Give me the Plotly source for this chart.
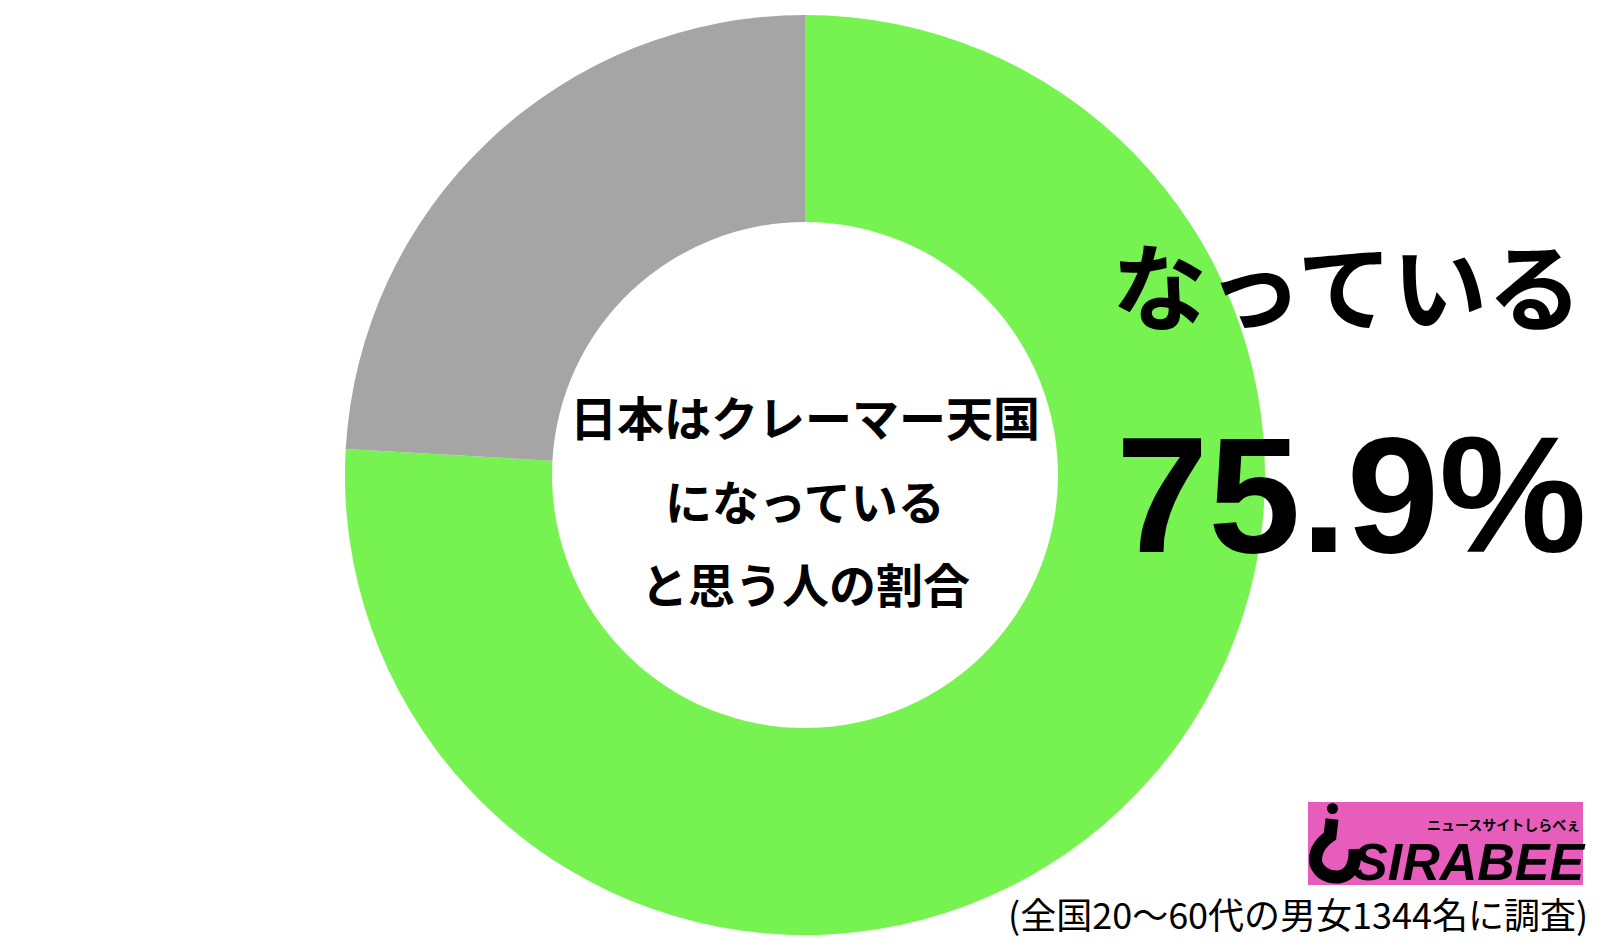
import plotly.graph_objects as go

# survey result
labels = ["なっている", "なっていない"]
values = [75.9, 24.1]
colors = ["#77F351", "#A5A5A5"]

center_lines = ["日本はクレーマー天国", "になっている", "と思う人の割合"]
answer_label = "なっている"
answer_value = "75.9%"
footnote = "(全国20〜60代の男女1344名に調査)"
logo_name = "SIRABEE"
logo_sub = "ニュースサイトしらべぇ"

# the page body has an 8px margin, so the figure is drawn 8px in from the corner
OFF = 8
FW, FH = 1611 - 2 * OFF, 948 - 2 * OFF
JP = "Noto Sans CJK JP"


def px(x):
    return (x - OFF) / FW


def py(y):
    return 1 - (y - OFF) / FH


fig = go.Figure(
    go.Pie(
        labels=labels,
        values=values,
        hole=0.55,
        sort=False,
        direction="clockwise",
        rotation=0,
        marker=dict(colors=colors, line=dict(width=0)),
        textinfo="none",
        hoverinfo="skip",
        domain=dict(x=[px(345), px(1265)], y=[py(935), py(15)]),
    )
)


def label(x, y, text, size, family=JP, anchor="center"):
    fig.add_annotation(
        x=px(x), y=py(y), xref="paper", yref="paper",
        xanchor=anchor, yanchor="middle",
        text=text, showarrow=False,
        font=dict(family=family, size=size, color="#000000"),
    )


# text in the hole
for i, line in enumerate(center_lines):
    label(805, 416 + i * 83, f"<b>{line}</b>", 47)

label(1347, 282, f"<b>{answer_label}</b>", 95)
label(1351, 494, f"<b>{answer_value}</b>", 166, family="Liberation Sans")

# logo
fig.add_shape(
    type="rect", xref="paper", yref="paper",
    x0=px(1308), x1=px(1583), y0=py(885), y1=py(802),
    fillcolor="#E65DBB", line=dict(width=0), layer="above",
)
fig.add_shape(
    type="circle", xref="paper", yref="paper",
    x0=px(1327), x1=px(1338), y0=py(814), y1=py(803),
    fillcolor="#000000", line=dict(width=0), layer="above",
)
fig.add_shape(
    type="path", xref="paper", yref="paper",
    path=(f"M {px(1332)},{py(819)} L {px(1330)},{py(836)} "
          f"Q {px(1313)},{py(848)} {px(1316)},{py(864)} "
          f"Q {px(1322)},{py(878)} {px(1339)},{py(877)} "
          f"Q {px(1356)},{py(874)} {px(1355)},{py(849)}"),
    line=dict(color="#000000", width=13), layer="above",
)
label(1469, 862, f"<b><i>{logo_name}</i></b>", 52, family="Liberation Sans")
label(1503, 824, f"<b>{logo_sub}</b>", 14)

label(1590, 913, footnote, 36, anchor="right")

fig.update_layout(
    width=FW, height=FH,
    margin=dict(l=0, r=0, t=0, b=0),
    paper_bgcolor="#FFFFFF",
    plot_bgcolor="#FFFFFF",
    showlegend=False,
)

fig.write_html("out.html")
